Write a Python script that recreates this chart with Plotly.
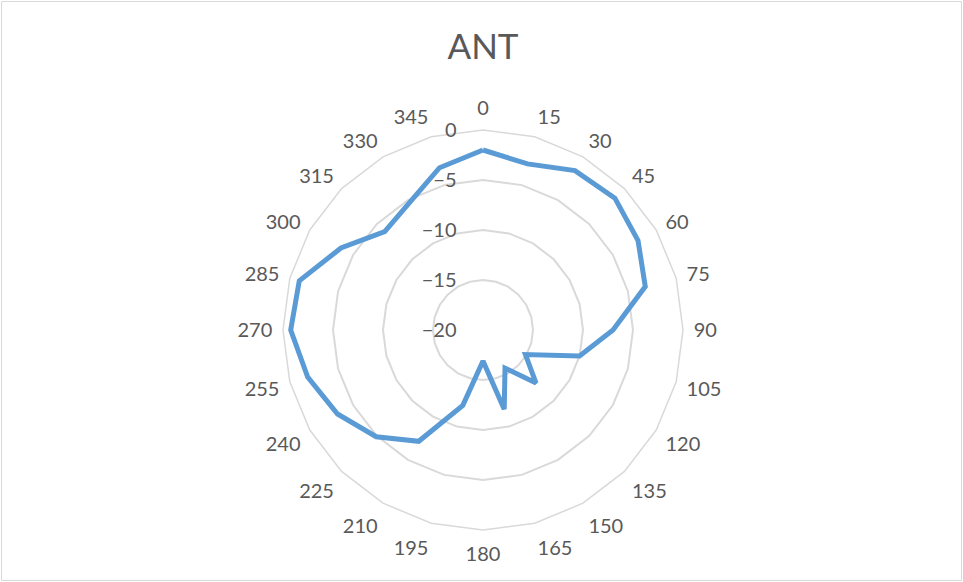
import plotly.graph_objects as go

# angle categories (degrees) and measured level (dB)
angles = ["0", "15", "30", "45", "60", "75", "90", "105", "120", "135", "150", "165",
          "180", "195", "210", "225", "240", "255", "270", "285", "300", "315", "330", "345"]
levels = [-2.0, -2.8, -1.6, -1.35, -2.1, -3.2, -7.0, -10.0, -15.1, -12.5, -15.6, -11.8,
          -16.9, -12.2, -7.15, -4.9, -3.2, -1.85, -0.77, -0.98, -3.6, -6.1, -5.3, -3.2]
r_ticks = [-20, -15, -10, -5, 0]

W, H = 963, 582
FONT = "Lato, 'Noto Sans', sans-serif"
GRID = "#d9d9d9"
TXT = "#595959"

fig = go.Figure()
fig.add_trace(go.Scatterpolar(
    r=levels + levels[:1],
    theta=angles + angles[:1],
    mode="lines",
    line=dict(color="#5b9bd5", width=5),
    hoverinfo="r+theta",
))

# polar area: center (483, 330), radius 200 px
cx, cy, rad = 483, 330, 200
fig.update_layout(
    width=W, height=H,
    margin=dict(l=0, r=0, t=0, b=0),
    paper_bgcolor="white",
    showlegend=False,
    title=dict(text="ANT", x=483 / W, xanchor="center", y=1 - 47 / H, yanchor="middle",
               font=dict(family=FONT, size=35, color=TXT)),
    polar=dict(
        domain=dict(x=[(cx - rad) / W, (cx + rad) / W], y=[(H - cy - rad) / H, (H - cy + rad) / H]),
        bgcolor="white",
        gridshape="linear",
        angularaxis=dict(
            type="category",
            direction="clockwise",
            rotation=90,
            showgrid=False,
            showline=True,
            linecolor=GRID,
            linewidth=1.5,
            ticks="outside",
            ticklen=6,
            tickcolor="rgba(0,0,0,0)",
            tickfont=dict(family=FONT, size=20, color=TXT),
        ),
        radialaxis=dict(
            range=[-20, 0],
            tickvals=r_ticks,
            angle=90,
            side="counterclockwise",
            showline=False,
            showgrid=True,
            gridcolor=GRID,
            gridwidth=1.5,
            ticks="outside",
            ticklen=19,
            tickcolor="rgba(0,0,0,0)",
            tickangle=90,
            tickfont=dict(family=FONT, size=20, color=TXT),
        ),
    ),
    shapes=[dict(type="rect", xref="paper", yref="paper",
                 x0=1.5 / W, x1=1 - 1.5 / W, y0=1.5 / H, y1=1 - 1.5 / H,
                 line=dict(color=GRID, width=1))],
)

fig.write_html("out.html", config={"displayModeBar": False},
               post_script="document.body.style.margin='0';")
